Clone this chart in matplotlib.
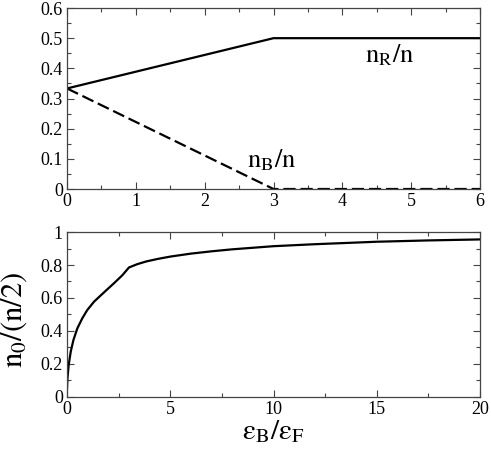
import numpy as np
import matplotlib
matplotlib.use("Agg")
import matplotlib.pyplot as plt
from matplotlib.ticker import MultipleLocator

plt.rcParams['font.family'] = 'Liberation Serif'
plt.rcParams['mathtext.fontset'] = 'stix'

# top panel: fractions of red / blue species
eb_top = [0.0, 3.0, 6.0]
nR_frac = [1/3, 0.5, 0.5]
nB_frac = [1/3, 0.0, 0.0]

# bottom panel: condensate fraction n0/(n/2)
eb_bot = [0.0, 0.02, 0.08, 0.18, 0.31, 0.5, 0.74, 0.98, 1.31, 1.79, 2.27, 2.68, 3.0,
          3.4, 3.85, 4.4, 5.0, 6.0, 7.0, 8.0, 10.0, 12.0, 15.0, 17.5, 20.0]
n0_frac = [0.05, 0.11, 0.194, 0.275, 0.345, 0.416, 0.477, 0.527, 0.578, 0.634, 0.689, 0.738, 0.785,
           0.805, 0.822, 0.837, 0.851, 0.869, 0.883, 0.895, 0.914, 0.926, 0.941, 0.949, 0.955]

fig = plt.figure(figsize=(4.91, 4.55), dpi=100)
ax1 = fig.add_axes([0.1365, 0.5846, 0.8411, 0.3978])
ax2 = fig.add_axes([0.1365, 0.1275, 0.8411, 0.3626])

ax1.plot(eb_top, nR_frac, color='black', lw=1.6)
ax1.plot(eb_top, nB_frac, color='black', lw=1.6, dashes=(5.5, 2.2))
ax1.set_xlim(0, 6)
ax1.set_ylim(0, 0.6)
ax1.xaxis.set_major_locator(MultipleLocator(1))
ax1.xaxis.set_minor_locator(MultipleLocator(0.5))
ax1.set_yticks([0, 0.1, 0.2, 0.3, 0.4, 0.5, 0.6])
ax1.set_yticklabels(['0', '0.1', '0.2', '0.3', '0.4', '0.5', '0.6'])
ax1.yaxis.set_minor_locator(MultipleLocator(0.05))
ax1.text(4.69, 0.445, r'$\mathrm{n_R/n}$', fontsize=19, ha='center', va='center')
ax1.text(2.98, 0.096, r'$\mathrm{n_B/n}$', fontsize=19, ha='center', va='center')

ax2.plot(eb_bot, n0_frac, color='black', lw=1.6)
ax2.set_xlim(0, 20)
ax2.set_ylim(0, 1)
ax2.xaxis.set_major_locator(MultipleLocator(5))
ax2.xaxis.set_minor_locator(MultipleLocator(2.5))
ax2.set_yticks([0, 0.2, 0.4, 0.6, 0.8, 1.0])
ax2.set_yticklabels(['0', '0.2', '0.4', '0.6', '0.8', '1'])
ax2.yaxis.set_minor_locator(MultipleLocator(0.1))
ax2.set_xlabel(r'$\mathrm{\varepsilon_B/\varepsilon_F}$', fontsize=21, labelpad=0)
ax2.set_ylabel(r'$\mathrm{n_0/(n/2)}$', fontsize=22)
ax2.yaxis.set_label_coords(-0.093, 0.47)

for ax in (ax1, ax2):
    for s in ax.spines.values():
        s.set_linewidth(0.9)
        s.set_color('#444444')
    ax.tick_params(which='both', direction='in', top=True, right=True,
                   labelsize=13, labelfontfamily='Liberation Serif',
                   color='#444444', width=0.8, pad=3)
    ax.tick_params(which='major', length=5)
    ax.tick_params(which='minor', length=3)

fig.savefig('out.png', dpi=100)
